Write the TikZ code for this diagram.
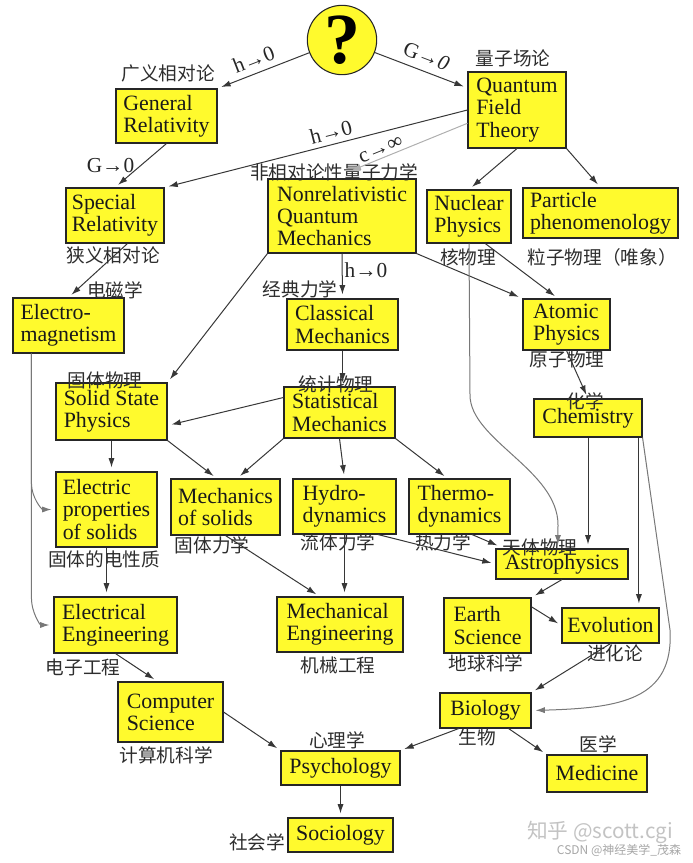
\documentclass[tikz,border=0pt]{standalone}
\usepackage{fontspec}
\setmainfont{Liberation Serif}
\newfontfamily\zhfont{Noto Sans CJK SC}
\usetikzlibrary{arrows.meta, calc}
\definecolor{boxYellow}{RGB}{255, 250, 45}
\definecolor{edgeGray}{RGB}{55, 55, 55}
\definecolor{softGray}{RGB}{120, 120, 120}
\definecolor{paleGray}{RGB}{175, 175, 175}
\definecolor{zhGray}{RGB}{45, 45, 45}
\definecolor{markGray}{RGB}{195, 195, 195}

\begin{document}
\begin{tikzpicture}[
    x=0.75pt, y=-0.75pt,
    every node/.style={font=\fontsize{16.4}{16.6}\selectfont},
    box/.style={rectangle, draw=black!85, fill=boxYellow, line width=0.8pt, align=left, inner sep=2pt, text=black!90},
    boxsize/.style 2 args={minimum width=#1*0.75pt, minimum height=#2*0.75pt},
    qmark/.style={circle, draw=black!85, fill=boxYellow, line width=0.8pt, minimum size=52pt, inner sep=0pt, font=\fontsize{54}{54}\selectfont\bfseries},
    zh/.style={font=\zhfont\fontsize{14}{14}\selectfont, text=zhGray, inner sep=1pt},
    lim/.style={font=\fontsize{16}{16}\selectfont, text=black!85, inner sep=1.5pt},
    arrow/.style={-{Latex[length=7pt, width=4.6pt]}, draw=edgeGray, line width=0.75pt, shorten >=3pt},
    longarrow/.style={arrow, draw=softGray},
    wmark/.style={font=\zhfont\fontsize{15.5}{15.5}\selectfont, text=markGray, inner sep=0pt}
]
\useasboundingbox (0,0) rectangle (692,863);

% Unknown theory and its limits
\node[qmark] (q) at (342,40) {?};
\node[box, boxsize={101}{54}] (gr) at (166.5,116) {General\\Relativity};
\node[box, boxsize={98}{76}] (qft) at (517,110) {Quantum\\Field\\Theory};
\node[box, boxsize={98}{55}] (sr) at (115,215.5) {Special\\Relativity};
\node[box, boxsize={148}{74}] (nqm) at (342,216) {Nonrelativistic\\Quantum\\Mechanics};
\node[box, boxsize={84}{53}] (np) at (469,216.5) {Nuclear\\Physics};
\node[box, boxsize={155}{50}] (pp) at (600.5,213) {Particle\\phenomenology};

% Classical level
\node[box, boxsize={111}{55}] (em) at (68.5,325.5) {Electro-\\magnetism};
\node[box, boxsize={111}{51}] (cm) at (342.5,324.5) {Classical\\Mechanics};
\node[box, boxsize={87}{51}] (ap) at (566.5,324.5) {Atomic\\Physics};
\node[box, boxsize={111}{57}] (ssp) at (111.5,411.5) {Solid State\\Physics};
\node[box, boxsize={111}{51}] (sm) at (339.5,412.5) {Statistical\\Mechanics};
\node[box, boxsize={108}{38}] (chem) at (588,418) {Chemistry};

% Applied physics
\node[box, boxsize={101}{75}] (eps) at (106.5,509.5) {Electric\\properties\\of solids};
\node[box, boxsize={109}{56}] (mos) at (225.5,507) {Mechanics\\of solids};
\node[box, boxsize={103}{55}] (hydro) at (344.5,506.5) {Hydro-\\dynamics};
\node[box, boxsize={101}{55}] (thermo) at (459.5,506.5) {Thermo-\\dynamics};
\node[box, boxsize={132}{30}] (astro) at (562,564) {Astrophysics};

% Engineering and life sciences
\node[box, boxsize={123}{56}] (ee) at (115.5,625) {Electrical\\Engineering};
\node[box, boxsize={126}{55}] (me) at (340,624.5) {Mechanical\\Engineering};
\node[box, boxsize={87}{55}] (es) at (487.5,625.5) {Earth\\Science};
\node[box, boxsize={97}{35}] (evo) at (610.5,625.5) {Evolution};
\node[box, boxsize={105}{60}] (cs) at (170.5,712) {Computer\\Science};
\node[box, boxsize={91}{35}] (bio) at (485.5,710.5) {Biology};
\node[box, boxsize={119}{34}] (psy) at (340.5,768) {Psychology};
\node[box, boxsize={100}{37}] (med) at (597,773.5) {Medicine};
\node[box, boxsize={105}{34}] (soc) at (340.5,835) {Sociology};

% Chinese names
\node[zh] (gr-zh) at (168,73) {广义相对论};
\node[zh] (qft-zh) at (513,58) {量子场论};
\node[zh] (nqm-zh) at (334,172) {非相对论性量子力学};
\node[zh] (sr-zh) at (113,255) {狭义相对论};
\node[zh] (np-zh) at (468,257) {核物理};
\node[zh] (pp-zh) at (602,257) {粒子物理（唯象）};
\node[zh] (em-zh) at (115,290) {电磁学};
\node[zh] (cm-zh) at (300,289) {经典力学};
\node[zh] (ap-zh) at (567,359) {原子物理};
\node[zh] (ssp-zh) at (105,380) {固体物理};
\node[zh] (sm-zh) at (336,384) {统计物理};
\node[zh] (chem-zh) at (585,401) {化学};
\node[zh] (mos-zh) at (212,545) {固体力学};
\node[zh] (hydro-zh) at (338,542) {流体力学};
\node[zh] (thermo-zh) at (443,542) {热力学};
\node[zh] (astro-zh) at (540,547) {天体物理};
\node[zh] (eps-zh) at (104,559) {固体的电性质};
\node[zh] (ee-zh) at (83,667) {电子工程};
\node[zh] (me-zh) at (338,665) {机械工程};
\node[zh] (es-zh) at (486,663) {地球科学};
\node[zh] (evo-zh) at (615,653) {进化论};
\node[zh] (cs-zh) at (166,755) {计算机科学};
\node[zh] (bio-zh) at (477,737) {生物};
\node[zh] (psy-zh) at (337,740) {心理学};
\node[zh] (med-zh) at (598,744) {医学};
\node[zh] (soc-zh) at (257,842) {社会学};

% Limits
\draw[arrow] (q) -- (gr.north east) node[lim, pos=0.55, sloped, above=3pt] (lim-h1) {h→0};
\draw[arrow] (q) -- (qft.156) node[lim, pos=0.5, sloped, above=4pt] (lim-g1) {G→\textit{0}};
\draw[arrow] (gr.south) -- (sr.north) node[lim, midway, left=3pt] (lim-g2) {G→0};
\draw[arrow] (qft.west) -- (sr.north east) node[lim, pos=0.44, sloped, above=2pt] (lim-h2) {h→0};
\coordinate (nqm-in) at (348,172);
\draw[arrow, draw=paleGray] (qft.195) -- (nqm-in) node[lim, pos=0.7, sloped, above] (lim-c) {c→∞};
\draw[arrow] (nqm.south) -- (cm.north) node[lim, pos=0.37, right] (lim-h3) {h→0};

% Quantum field theory branches
\draw[arrow] (qft.south) -- (np.north);
\draw[arrow] (qft.south east) -- (pp.north);
\draw[arrow] (nqm.south west) -- (ssp.north east);
\draw[arrow] (nqm.south east) -- (ap.north west);
\draw[arrow] (np.-59) -- (ap.108);
\draw[longarrow] (np.south) -- (470,395) .. controls (470,440) and (558,470) .. (558,525) -- (astro.105);

% Classical branches
\draw[arrow] (sr.-66) -- (em.north);
\draw[arrow] (cm.south) -- (cm.south |- sm.north);
\draw[arrow] (sm.165) -- (ssp.-14);
\draw[arrow] (ssp.south) -- (ssp.south |- eps.north);
\draw[arrow] (ssp.south east) -- (mos.107);
\draw[arrow] (sm.south west) -- (mos.68);
\draw[arrow] (sm.south) -- (hydro.north);
\draw[arrow] (sm.south east) -- (thermo.113);
\coordinate (em-foot) at ($(em.south west)+(19,0)$);
\draw[longarrow] (em-foot) -- ++(0,130) to[out=-90, in=180] (eps.west);
\draw[longarrow] (em-foot) -- ++(0,245) to[out=-90, in=180] (ee.west);
\draw[arrow] (eps.south) -- (eps.south |- ee.north);

% Applied branches
\draw[arrow] (mos.south) -- (me.126);
\draw[arrow] (hydro.south) -- (hydro.south |- me.north);
\draw[arrow] (hydro.-40) -- (astro.west);
\draw[arrow] (thermo.-66) -- (astro-zh.west);
\draw[arrow] (ap.south) -- (chem.north);
\draw[arrow] (chem.south) -- (chem.south |- astro.north);
\draw[arrow] (chem.-21) -- (chem.-21 |- evo.north);
\draw[longarrow] (chem.south east) -- (670,630) .. controls (674,700) and (620,708) .. (bio.east);
\draw[arrow] (astro.south) -- (es.north east);
\draw[arrow] (es.23) -- (evo.west);
\draw[arrow] (evo.south) -- (bio.north east);
\draw[arrow] (bio.-146) -- (psy.north east);
\draw[arrow] (bio.-38) -- (med.north west);
\draw[arrow] (ee.south) -- (cs.113);
\draw[arrow] (cs.east) -- (psy.north west);
\draw[arrow] (psy.south) -- (soc.north);

% Watermarks
\node[wmark] (zhihu) at (600,832) {知乎 @scott.cgi};
\node[wmark, font=\zhfont\fontsize{9}{9}\selectfont, text=black!35] (csdn) at (619,850) {CSDN @神经美学\_茂森};
\end{tikzpicture}
\end{document}
